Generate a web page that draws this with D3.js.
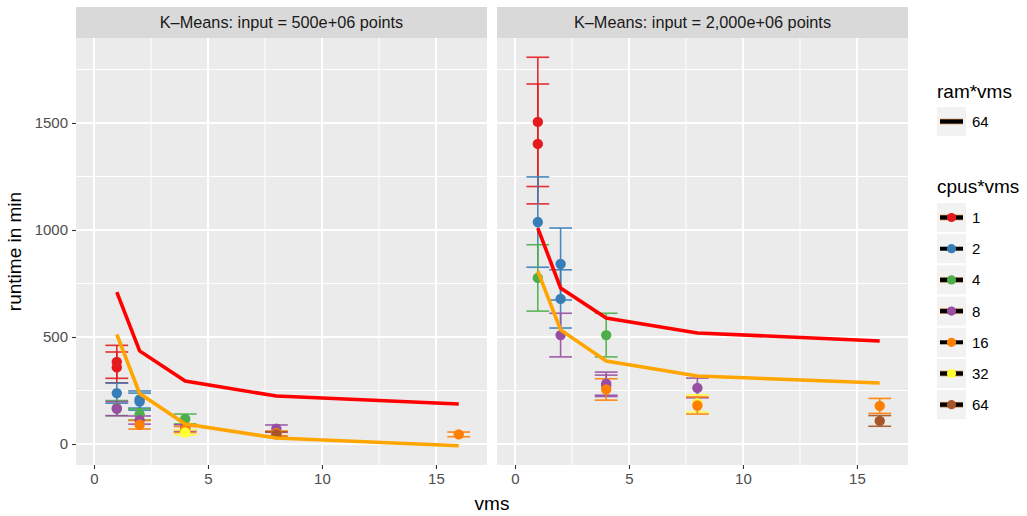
<!DOCTYPE html>
<html>
<head>
<meta charset="utf-8">
<script src="https://cdn.jsdelivr.net/npm/d3@7"></script>
<style>
  html, body { margin: 0; padding: 0; background: #ffffff; }
  svg { display: block; font-family: "Liberation Sans", Arial, Helvetica, sans-serif; }
</style>
</head>
<body>
<svg id="chart" width="1027" height="516"></svg>
<script>
// ---- data -------------------------------------------------------------
const panelTitles = ["K\u2013Means: input = 500e+06 points", "K\u2013Means: input = 2,000e+06 points"];

// measured runtimes (mean and half-width of the error bar), 500e+06 points
const smallVms     = [1, 1, 1, 1, 1, 2, 2, 2, 2, 2, 4, 4, 4, 4, 8, 8, 8, 16];
const smallCpus    = [1, 1, 2, 4, 8, 2, 2, 4, 8, 16, 4, 8, 16, 32, 8, 16, 64, 16];
const smallRuntime = [384, 358, 238, 168, 165, 208, 198, 138, 112, 90, 117, 75, 68, 54, 72, 50, 45, 45];
const smallErr     = [77, 72, 47, 35, 33, 40, 40, 26, 19, 20, 23, 15, 14, 12, 17, 11, 12, 11];

// measured runtimes, 2,000e+06 points
const largeVms     = [1, 1, 1, 1, 2, 2, 2, 4, 4, 4, 4, 8, 8, 8, 16, 16];
const largeCpus    = [1, 1, 2, 4, 2, 2, 8, 4, 8, 8, 16, 8, 32, 16, 16, 64];
const largeRuntime = [1505, 1402, 1037, 776, 841, 678, 509, 509, 282, 272, 255, 262, 190, 180, 178, 108];
const largeErr     = [302, 280, 211, 155, 168, 136, 102, 102, 54, 50, 50, 46, 40, 40, 35, 25];

// model curves over the number of vms
const modelVms       = [1, 2, 4, 8, 16];
const smallModelRed  = [710, 435, 294, 224, 187];
const smallModelOrng = [512, 236, 93, 28, -8];
const largeModelRed  = [1009, 729, 589, 519, 481];
const largeModelOrng = [808, 533, 388, 318, 285];

const cpuLevels = [1, 2, 4, 8, 16, 32, 64];
const cpuColors = ["#E41A1C", "#377EB8", "#4DAF4A", "#984EA3", "#FF7F00", "#FFFF33", "#A65628"];
const ramLevels = [64];

const xTicks = [0, 5, 10, 15];
const xMinor = [2.5, 7.5, 12.5];
const yTicks = [0, 500, 1000, 1500];
const yMinor = [250, 750, 1250, 1750];

// ---- layout -----------------------------------------------------------
const svg = d3.select("#chart");
const panelTop = 38, panelBottom = 465;
const panels = [
  { x0: 76, x1: 487, title: panelTitles[0], vms: smallVms, cpus: smallCpus, rt: smallRuntime, err: smallErr,
    red: smallModelRed, orange: smallModelOrng },
  { x0: 497, x1: 908, title: panelTitles[1], vms: largeVms, cpus: largeCpus, rt: largeRuntime, err: largeErr,
    red: largeModelRed, orange: largeModelOrng }
];

const color = d3.scaleOrdinal().domain(cpuLevels).range(cpuColors);
const y = d3.scaleLinear().domain([-98, 1897]).range([panelBottom, panelTop]);
const font = "Liberation Sans, Arial, sans-serif";

panels.forEach((p, pi) => {
  const x = d3.scaleLinear().domain([-0.79, 17.24]).range([p.x0, p.x1]);
  const g = svg.append("g");

  // strip
  g.append("rect").attr("x", p.x0).attr("y", 7).attr("width", p.x1 - p.x0).attr("height", panelTop - 7)
    .attr("fill", "#d9d9d9");
  g.append("text").attr("x", (p.x0 + p.x1) / 2).attr("y", 28).attr("text-anchor", "middle")
    .attr("font-size", 16.3).attr("fill", "#1a1a1a").text(p.title);

  // panel background and grid
  g.append("rect").attr("x", p.x0).attr("y", panelTop).attr("width", p.x1 - p.x0)
    .attr("height", panelBottom - panelTop).attr("fill", "#ebebeb");
  g.selectAll(".ymin").data(yMinor).enter().append("line")
    .attr("x1", p.x0).attr("x2", p.x1).attr("y1", d => y(d)).attr("y2", d => y(d))
    .attr("stroke", "#ffffff").attr("stroke-width", 1);
  g.selectAll(".xmin").data(xMinor).enter().append("line")
    .attr("y1", panelTop).attr("y2", panelBottom).attr("x1", d => x(d)).attr("x2", d => x(d))
    .attr("stroke", "#ffffff").attr("stroke-width", 1);
  g.selectAll(".ymaj").data(yTicks).enter().append("line")
    .attr("x1", p.x0).attr("x2", p.x1).attr("y1", d => y(d)).attr("y2", d => y(d))
    .attr("stroke", "#ffffff").attr("stroke-width", 2);
  g.selectAll(".xmaj").data(xTicks).enter().append("line")
    .attr("y1", panelTop).attr("y2", panelBottom).attr("x1", d => x(d)).attr("x2", d => x(d))
    .attr("stroke", "#ffffff").attr("stroke-width", 2);

  // x axis
  const xAxis = d3.axisBottom(x).tickValues(xTicks).tickSize(4).tickPadding(4).tickFormat(d3.format("d"));
  const xa = g.append("g").attr("transform", `translate(0,${panelBottom})`).call(xAxis);
  xa.select(".domain").remove();
  xa.selectAll("line").attr("stroke", "#333333").attr("stroke-width", 1.1);
  xa.selectAll("text").attr("font-size", 15).attr("fill", "#4d4d4d").attr("font-family", font);

  // y axis on the first panel only
  if (pi === 0) {
    const yAxis = d3.axisLeft(y).tickValues(yTicks).tickSize(4).tickPadding(4).tickFormat(d3.format("d"));
    const ya = g.append("g").attr("transform", `translate(${p.x0},0)`).call(yAxis);
    ya.select(".domain").remove();
    ya.selectAll("line").attr("stroke", "#333333").attr("stroke-width", 1.1);
    ya.selectAll("text").attr("font-size", 15).attr("fill", "#4d4d4d").attr("font-family", font);
  }

  const rows = p.vms.map((v, i) => ({ vms: v, cpus: p.cpus[i], rt: p.rt[i], err: p.err[i] }));
  const clip = `clip${pi}`;
  svg.append("clipPath").attr("id", clip).append("rect")
    .attr("x", p.x0).attr("y", panelTop).attr("width", p.x1 - p.x0).attr("height", panelBottom - panelTop);
  const plot = g.append("g").attr("clip-path", `url(#${clip})`);

  // error bars
  const eb = plot.selectAll(".eb").data(rows).enter().append("g")
    .attr("stroke", d => color(d.cpus)).attr("stroke-width", 1.6).attr("opacity", 0.9);
  eb.append("line").attr("x1", d => x(d.vms)).attr("x2", d => x(d.vms))
    .attr("y1", d => y(d.rt - d.err)).attr("y2", d => y(d.rt + d.err));
  eb.append("line").attr("x1", d => x(d.vms - 0.5)).attr("x2", d => x(d.vms + 0.5))
    .attr("y1", d => y(d.rt + d.err)).attr("y2", d => y(d.rt + d.err));
  eb.append("line").attr("x1", d => x(d.vms - 0.5)).attr("x2", d => x(d.vms + 0.5))
    .attr("y1", d => y(d.rt - d.err)).attr("y2", d => y(d.rt - d.err));

  // points
  plot.selectAll(".pt").data(rows).enter().append("circle")
    .attr("cx", d => x(d.vms)).attr("cy", d => y(d.rt)).attr("r", 5.2)
    .attr("fill", d => color(d.cpus));

  // model curves
  const line = d3.line().x(d => x(d[0])).y(d => y(d[1]));
  plot.append("path").datum(modelVms.map((v, i) => [v, p.red[i]]))
    .attr("d", line).attr("fill", "none").attr("stroke", "#FF0000").attr("stroke-width", 3.6);
  plot.append("path").datum(modelVms.map((v, i) => [v, p.orange[i]]))
    .attr("d", line).attr("fill", "none").attr("stroke", "#FFA500").attr("stroke-width", 3.6);
});

// axis titles
svg.append("text").attr("x", (76 + 908) / 2).attr("y", 510).attr("text-anchor", "middle")
  .attr("font-size", 19).attr("fill", "#000").text("vms");
svg.append("text").attr("transform", `translate(21,${(panelTop + panelBottom) / 2}) rotate(-90)`)
  .attr("text-anchor", "middle").attr("font-size", 19).attr("fill", "#000").text("runtime in min");

// ---- legends ----------------------------------------------------------
const lx = 937;
const keyW = 29, keyH = 29, keyStep = 31.2;
const tinted = new Set([1, 4, 8, 32, 64]);

function drawKey(gy, withDot, dotColor, tint) {
  const k = svg.append("g").attr("transform", `translate(${lx},${gy})`);
  k.append("rect").attr("width", keyW).attr("height", keyH).attr("fill", "#f2f2f2");
  if (tint) {
    k.append("line").attr("x1", 3).attr("x2", keyW - 3).attr("y1", keyH / 2).attr("y2", keyH / 2)
      .attr("stroke", "#b0703a").attr("stroke-width", 5.5);
  }
  k.append("line").attr("x1", 3).attr("x2", keyW - 3).attr("y1", keyH / 2).attr("y2", keyH / 2)
    .attr("stroke", "#000").attr("stroke-width", 4);
  if (withDot) {
    k.append("circle").attr("cx", keyW / 2).attr("cy", keyH / 2).attr("r", 4.6).attr("fill", dotColor);
  }
}

svg.append("text").attr("x", lx).attr("y", 98).attr("font-size", 19).attr("fill", "#000").text("ram*vms");
ramLevels.forEach((r, i) => {
  const gy = 107 + i * keyStep;
  drawKey(gy, false, null, true);
  svg.append("text").attr("x", lx + keyW + 6).attr("y", gy + keyH / 2 + 5.5)
    .attr("font-size", 15).attr("fill", "#000").text(r);
});

svg.append("text").attr("x", lx).attr("y", 193).attr("font-size", 19).attr("fill", "#000").text("cpus*vms");
cpuLevels.forEach((c, i) => {
  const gy = 203 + i * keyStep;
  drawKey(gy, true, color(c), tinted.has(c));
  svg.append("text").attr("x", lx + keyW + 6).attr("y", gy + keyH / 2 + 5.5)
    .attr("font-size", 15).attr("fill", "#000").text(c);
});
</script>
</body>
</html>
